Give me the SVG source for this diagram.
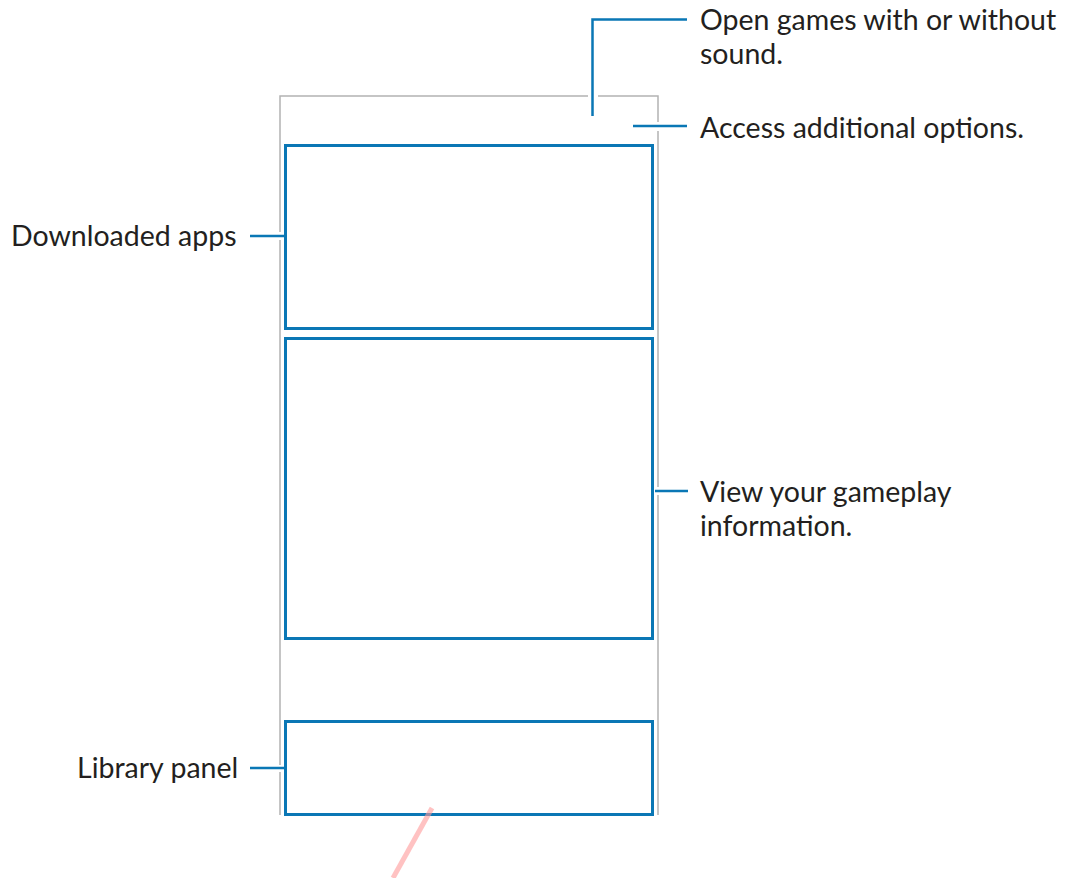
<svg xmlns="http://www.w3.org/2000/svg" width="1067" height="878" viewBox="0 0 1067 878">
<style>
.lbl{font-family:Lato,"Open Sans","Liberation Sans",sans-serif;font-size:28.5px;fill:#231f20}
.box{fill:none;stroke:#0a77b5;stroke-width:3}
.con{fill:none;stroke:#0a77b5;stroke-width:2.5}
.frame{fill:none;stroke:#b3b3b3;stroke-width:1.5}
</style>
<rect width="1067" height="878" fill="#fff"/>
<g id="phone-frame">
<path class="frame" d="M280,815 V772 M280,765 V240 M280,232 V96 H588 M598,96 H658 V122 M658,131 V487 M658,495 V815"/>
</g>
<g id="box-downloaded"><rect class="box" x="285.5" y="145.5" width="367" height="183"/></g>
<g id="box-gameplay"><rect class="box" x="285.5" y="338.5" width="367" height="300"/></g>
<g id="box-library"><rect class="box" x="285.5" y="721.5" width="367" height="93"/></g>
<g id="connectors">
<path class="con" d="M592.5,116 V19.5 H687"/>
<path class="con" d="M633,126 H687"/>
<path class="con" d="M250,236 H285"/>
<path class="con" d="M655,491 H688"/>
<path class="con" d="M250,768 H285"/>
</g>
<g id="label-sound"><text class="lbl" x="700" y="30">Open games with or without</text><text class="lbl" x="700" y="64">sound.</text></g>
<g id="label-options"><text class="lbl" x="700" y="138">Access additional options.</text></g>
<g id="label-downloaded"><text class="lbl" x="11" y="246">Downloaded apps</text></g>
<g id="label-gameplay"><text class="lbl" x="700" y="502">View your gameplay</text><text class="lbl" x="700" y="536">information.</text></g>
<g id="label-library"><text class="lbl" x="77" y="778">Library panel</text></g>
<line x1="432" y1="808" x2="393" y2="878" stroke="#ff9999" stroke-opacity="0.6" stroke-width="5"/>
</svg>
